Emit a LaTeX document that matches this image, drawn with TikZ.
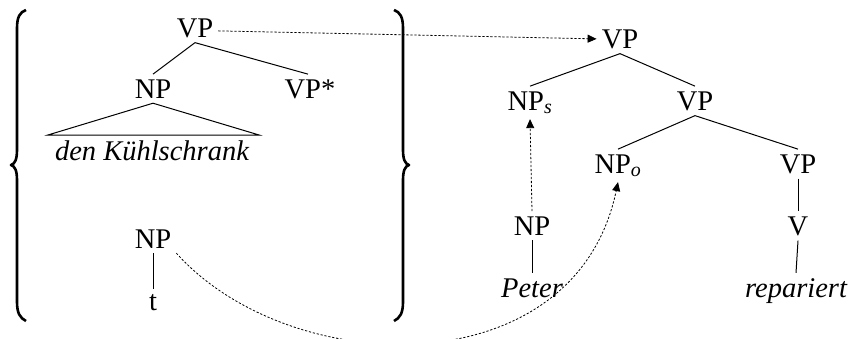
\documentclass[tikz,border=0pt]{standalone}
\usepackage{fontspec}
\setmainfont{Liberation Serif}
\usetikzlibrary{arrows.meta}
\begin{document}
\begin{tikzpicture}[x=1pt,y=-1pt,
  lab/.style={anchor=base,inner sep=5pt,font=\fontsize{28.5}{30}\selectfont},
  edge/.style={line width=1pt},
  mv/.style={line width=0.8pt,dash pattern=on 2.2pt off 1.8pt,-{Triangle[length=9pt,width=8pt]}},
  brace/.style={line width=2.6pt,line join=round}]
\useasboundingbox (0,0) rectangle (851,338);
% braces
\draw[brace] (26,10) .. controls (20,12) and (17,17) .. (17,28) -- (17,150)
  .. controls (17,159) and (15,164) .. (11,165) .. controls (15,166) and (17,171) .. (17,180)
  -- (17,302) .. controls (17,313) and (20,318) .. (26,321);
\draw[brace] (394,10) .. controls (400,12) and (403,17) .. (403,28) -- (403,150)
  .. controls (403,159) and (405,164) .. (409,165) .. controls (405,166) and (403,171) .. (403,180)
  -- (403,302) .. controls (403,313) and (400,318) .. (394,321);
% left tree
\node[lab] (vpl) at (195,37) {VP};
\node[lab] (npl1) at (153,98) {NP};
\node[lab] (vpstar) at (310,98) {VP*};
\node[lab] (dk) at (152,160) {\itshape den Kühlschrank};
\node[lab] (npl2) at (153,248) {NP};
\node[lab] (tl) at (153,310) {t};
\draw[edge] (vpl.south) -- (npl1.north);
\draw[edge] (vpl.south) -- ([xshift=-2pt]vpstar.north);
\draw[edge] (npl1.south) -- ([xshift=-2pt]dk.north west) -- ([xshift=5pt]dk.north east) -- cycle;
\draw[edge] (npl2.south) -- (tl.north);
% right tree
\node[lab] (vpr) at (620,48) {VP};
\node[lab] (nps) at (530,110) {NP\textsubscript{\itshape s}};
\node[lab] (vpm) at (695,110) {VP};
\node[lab] (npo) at (618,173) {NP\textsubscript{\itshape o}};
\node[lab] (vpr2) at (798,173) {VP};
\node[lab] (npb) at (532,235) {NP};
\node[lab] (vr) at (798,235) {V};
\node[lab] (peter) at (532,297) {\itshape Peter};
\node[lab] (rep) at (796,297) {\itshape repariert};
\draw[edge] (vpr.south) -- (nps.north);
\draw[edge] (vpr.south) -- (vpm.north);
\draw[edge] (vpm.south) -- (npo.north);
\draw[edge] (vpm.south) -- (vpr2.north);
\draw[edge] (vpr2.south) -- (vr.north);
\draw[edge] (vr.south) -- (rep.north);
\draw[edge] (npb.south) -- (peter.north);
% movement arrows
\draw[mv] ([yshift=-3pt]vpl.east) -- (vpr.west);
\draw[mv] (npb.north) -- (nps.south);
\draw[mv] (npl2.south east) .. controls (290,380) and (575,388) .. (npo.south);
\end{tikzpicture}
\end{document}
